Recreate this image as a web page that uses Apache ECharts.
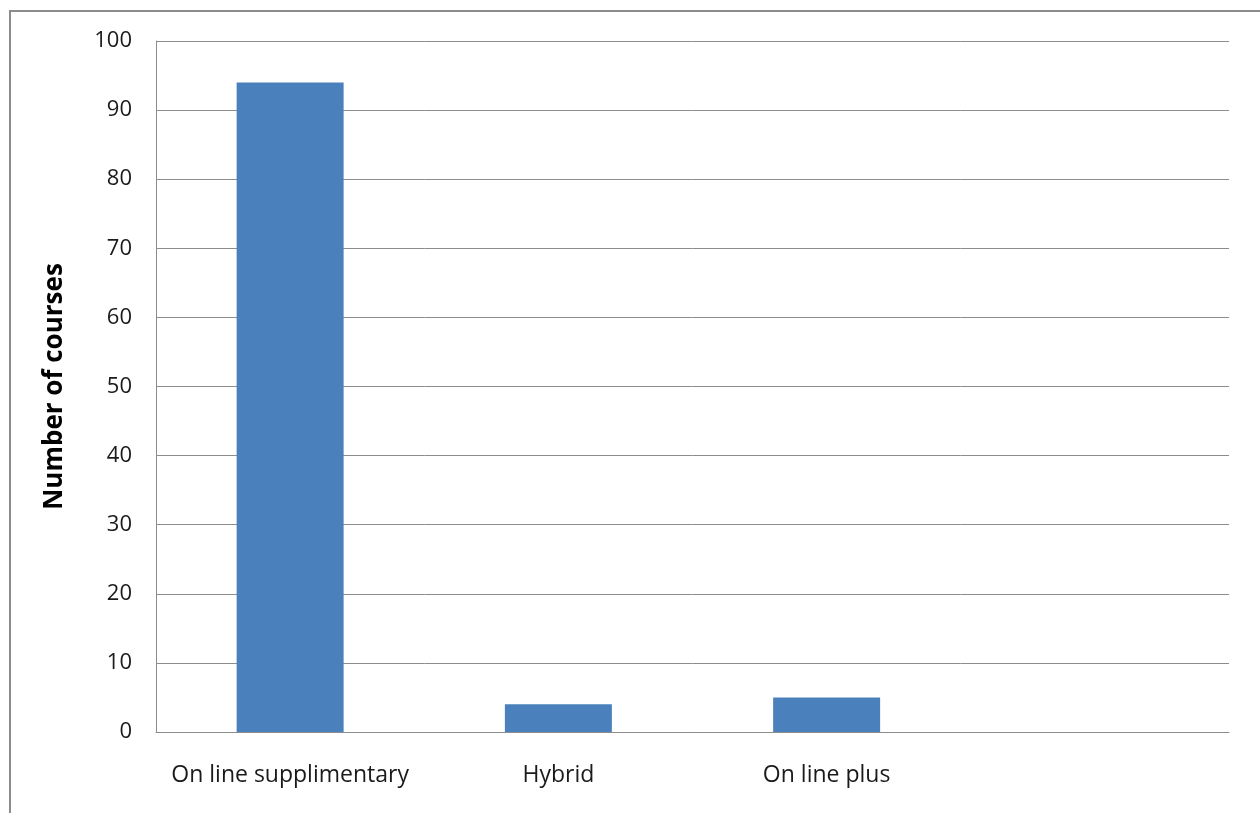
<!DOCTYPE html>
<html>
<head>
<meta charset="utf-8">
<script src="https://cdn.jsdelivr.net/npm/echarts@6/dist/echarts.min.js"></script>
<style>
  html, body { margin: 0; padding: 0; background: #fff; }
  #chart { width: 1260px; height: 813px; }
</style>
</head>
<body>
<div id="chart"></div>
<script>
// categories (4th slot is empty in the original)
var categories = ['On line supplimentary', 'Hybrid', 'On line plus', ''];
var courseCounts = [94, 4, 5, null];
var yTicks = [0, 100, 10];

var myChart = echarts.init(document.getElementById('chart'));

option = {
    animation: false,
    textStyle: { fontFamily: 'Open Sans' },
    graphic: [{
        type: 'rect',
        shape: { x: 10, y: 11, width: 1300, height: 900 },
        style: { fill: 'none', stroke: '#8c8c8c', lineWidth: 2 }
    }],
    grid: {
        left: 156,
        right: 31,
        top: 41,
        bottom: 81
    },
    xAxis: {
        type: 'category',
        data: categories,
        axisLine: { lineStyle: { color: '#8c8c8c', width: 1 } },
        axisTick: { show: false },
        axisLabel: { color: '#1a1a1a', fontSize: 23, margin: 32, interval: 0 }
    },
    yAxis: {
        type: 'value',
        min: yTicks[0],
        max: yTicks[1],
        interval: yTicks[2],
        name: 'Number of courses',
        nameLocation: 'middle',
        nameRotate: 90,
        nameGap: 88,
        nameTextStyle: { color: '#000', fontSize: 26, fontWeight: 'bold' },
        axisLine: { show: true, lineStyle: { color: '#8c8c8c' } },
        axisTick: { show: false },
        axisLabel: { color: '#1a1a1a', fontSize: 22, margin: 24 },
        splitLine: { lineStyle: { color: '#8c8c8c', width: 1 } }
    },
    series: [{
        type: 'bar',
        data: courseCounts,
        barWidth: 107,
        itemStyle: { color: '#4a81bd' }
    }]
};

myChart.setOption(option);
</script>
</body>
</html>
